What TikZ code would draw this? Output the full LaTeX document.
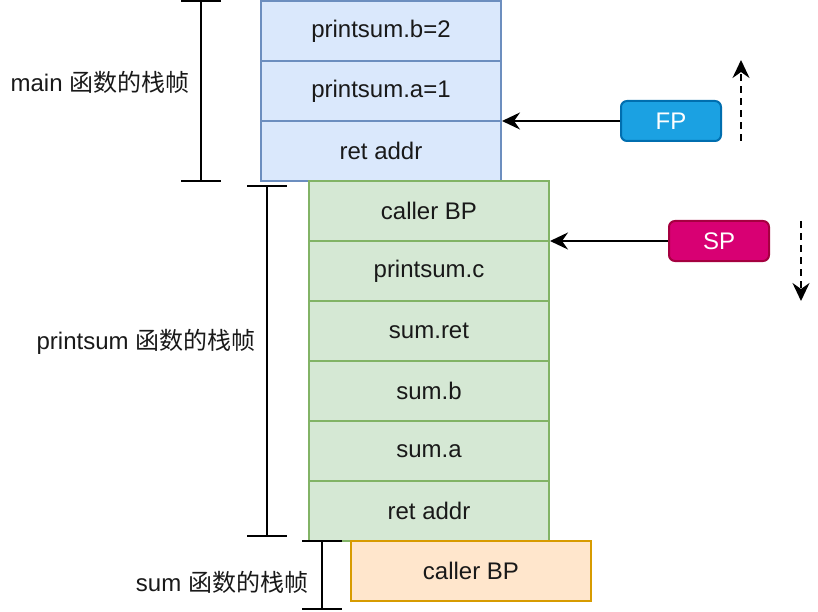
\documentclass[tikz,border=0pt]{standalone}
\usepackage{fontspec}
\setmainfont{Liberation Sans}
\newfontfamily\cjk{Noto Sans CJK SC}
\usetikzlibrary{arrows.meta}
\definecolor{bluefill}{HTML}{DAE8FC}
\definecolor{bluedraw}{HTML}{6C8EBF}
\definecolor{greenfill}{HTML}{D5E8D4}
\definecolor{greendraw}{HTML}{82B366}
\definecolor{orangefill}{HTML}{FFE6CC}
\definecolor{orangedraw}{HTML}{D79B00}
\definecolor{fpfill}{HTML}{1BA1E2}
\definecolor{fpdraw}{HTML}{006EAF}
\definecolor{spfill}{HTML}{D80073}
\definecolor{spdraw}{HTML}{A50040}
\begin{document}
\begin{tikzpicture}[x=1pt,y=-1pt,
  font=\fontsize{24}{28}\selectfont,
  cell/.style={draw, line width=2pt, minimum width=240pt, minimum height=60pt, inner sep=0pt, text=black!90},
  bluecell/.style={cell, fill=bluefill, draw=bluedraw},
  greencell/.style={cell, fill=greenfill, draw=greendraw},
  orangecell/.style={cell, fill=orangefill, draw=orangedraw},
  regbox/.style={draw, line width=2pt, rounded corners=6pt, minimum width=100pt, minimum height=40pt, inner sep=0pt, text=white},
  bracket/.style={line width=2pt, draw=black},
  ptr/.style={line width=2pt, -{Stealth[length=18pt,width=17pt,inset=6pt]}},
  dir/.style={line width=2pt, dashed, dash pattern=on 7pt off 5pt, -{Stealth[length=18pt,width=17pt,inset=6pt]}},
  lbl/.style={inner sep=0pt, text=black!90}
]
\useasboundingbox (0,0) rectangle (818,612);
% main frame
\node[bluecell] (b1) at (381,31) {printsum.b=2};
\node[bluecell] (b2) at (381,91) {printsum.a=1};
\node[bluecell] (b3) at (381,151) {ret addr};
% printsum frame
\node[greencell] (g1) at (429,211) {caller BP};
\node[greencell] (g2) at (429,271) {printsum.c};
\node[greencell] (g3) at (429,331) {sum.ret};
\node[greencell] (g4) at (429,391) {sum.b};
\node[greencell] (g5) at (429,451) {sum.a};
\node[greencell] (g6) at (429,511) {ret addr};
% sum frame
\node[orangecell] (o1) at (471,571) {caller BP};
% registers
\node[regbox, fill=fpfill, draw=fpdraw] (fp) at (671,121) {FP};
\node[regbox, fill=spfill, draw=spdraw] (sp) at (719,241) {SP};
\draw[ptr] (fp.west) -- (fp.west -| b3.east);
\draw[ptr] (sp.west) -- (sp.west -| g1.east);
% direction arrows
\coordinate (upA) at (741,141);
\coordinate (upB) at (741,60);
\coordinate (dnA) at (801,221);
\coordinate (dnB) at (801,301);
\draw[dir] (upA) -- (upB);
\draw[dir] (dnA) -- (dnB);
% brackets
\coordinate (m1) at (201,1);
\coordinate (m2) at (201,181);
\draw[bracket] (m1) -- (m2);
\draw[bracket] ([xshift=-20pt]m1) -- ([xshift=20pt]m1);
\draw[bracket] ([xshift=-20pt]m2) -- ([xshift=20pt]m2);
\coordinate (p1) at (267,186);
\coordinate (p2) at (267,536);
\draw[bracket] (p1) -- (p2);
\draw[bracket] ([xshift=-20pt]p1) -- ([xshift=20pt]p1);
\draw[bracket] ([xshift=-20pt]p2) -- ([xshift=20pt]p2);
\coordinate (s1) at (322,541);
\coordinate (s2) at (322,609);
\draw[bracket] (s1) -- (s2);
\draw[bracket] ([xshift=-20pt]s1) -- ([xshift=20pt]s1);
\draw[bracket] ([xshift=-20pt]s2) -- ([xshift=20pt]s2);
% labels
\node[lbl] (lm) at (100,82) {main {\cjk 函数的栈帧}};
\node[lbl] (lp) at (146,342) {printsum {\cjk 函数的栈帧}};
\node[lbl] (ls) at (222,582) {sum {\cjk 函数的栈帧}};
\end{tikzpicture}
\end{document}
